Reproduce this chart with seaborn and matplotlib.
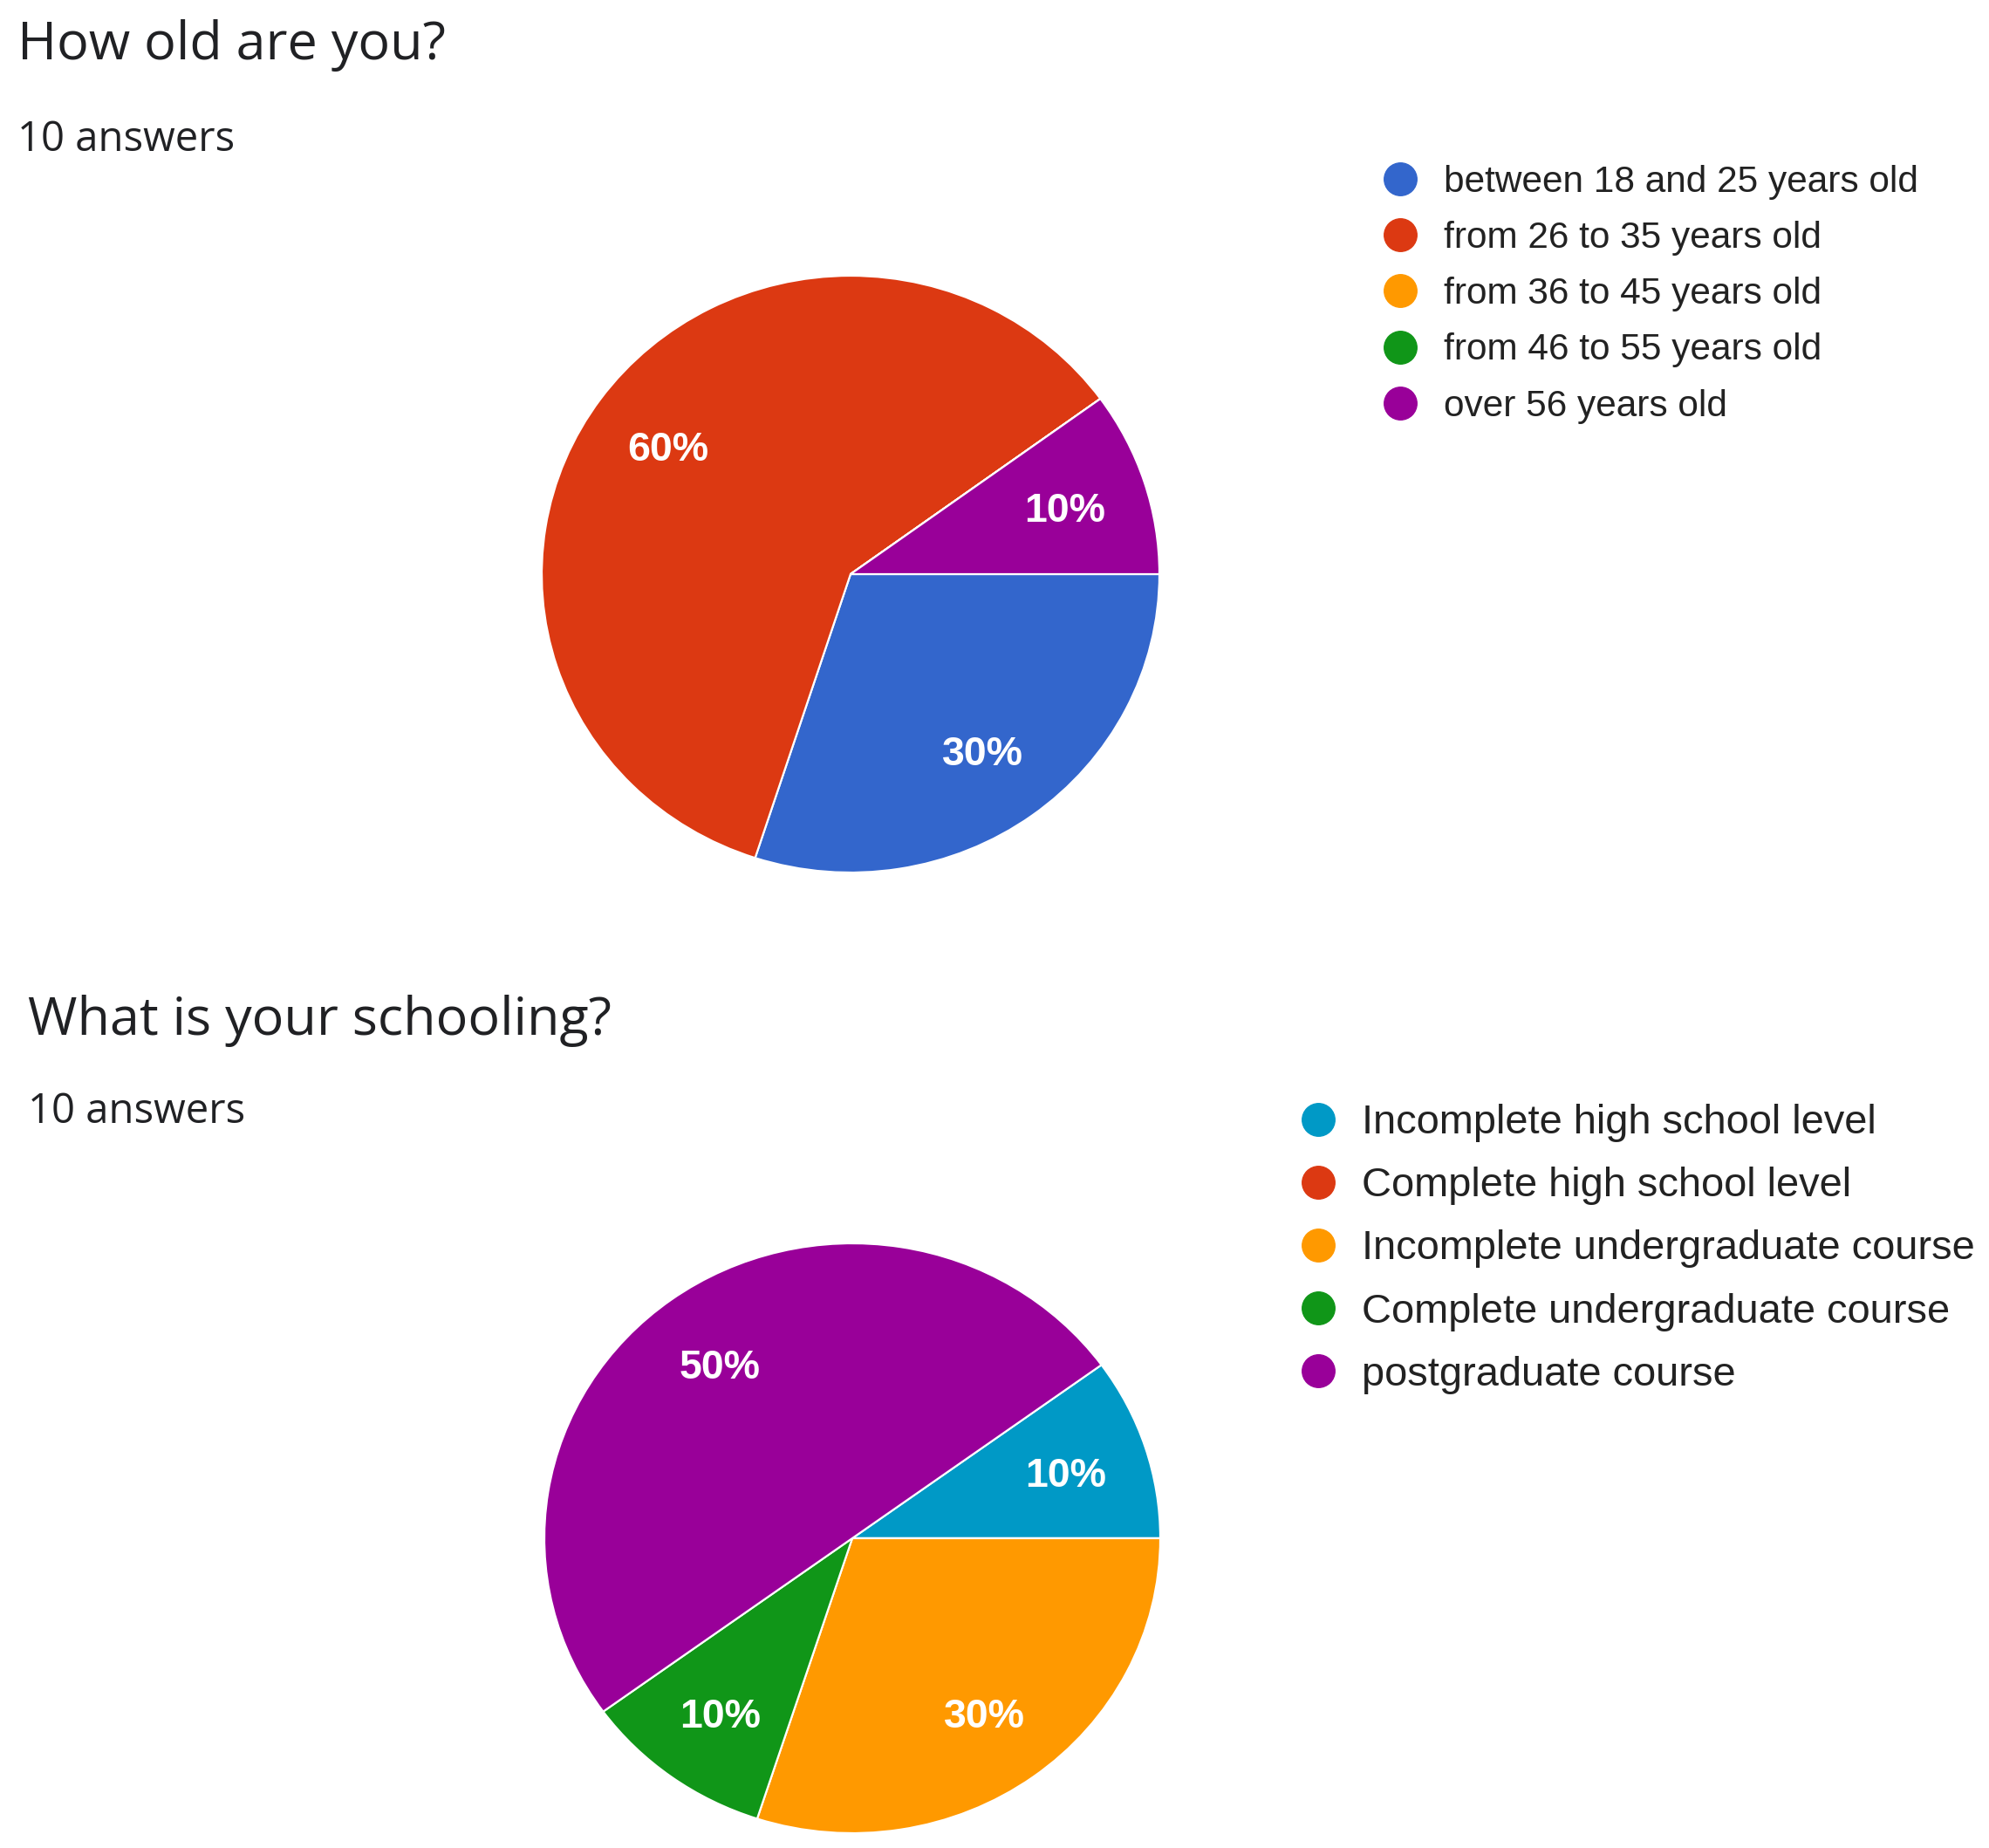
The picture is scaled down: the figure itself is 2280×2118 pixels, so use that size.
import matplotlib
matplotlib.use("Agg")
import matplotlib.pyplot as plt
from matplotlib.lines import Line2D
import seaborn as sns

# data
age_labels = ["between 18 and 25 years old", "from 26 to 35 years old",
              "from 36 to 45 years old", "from 46 to 55 years old",
              "over 56 years old"]
age_counts = [3, 6, 0, 0, 1]
age_colors = ["#3366cc", "#dc3912", "#ff9900", "#109618", "#990099"]

school_labels = ["Incomplete high school level", "Complete high school level",
                 "Incomplete undergraduate course", "Complete undergraduate course",
                 "postgraduate course"]
school_counts = [1, 0, 3, 1, 5]
school_colors = ["#0099c6", "#dc3912", "#ff9900", "#109618", "#990099"]

sns.set_theme(style="white")
plt.rcParams["font.family"] = ["Liberation Sans", "DejaVu Sans"]

W, H = 2280, 2118
fig = plt.figure(figsize=(W / 100, H / 100), dpi=100)
fig.patch.set_facecolor("white")


def fx(x):
    return x / W


def fy(y):
    return 1 - y / H


def pct(p):
    return "" if p < 0.5 else f"{p:.0f}%"


def draw_pie(counts, colors, cx, cy, rx, ry, start):
    pad = 1.05
    ax = fig.add_axes([fx(cx - rx * pad), fy(cy + ry * pad),
                       2 * rx * pad / W, 2 * ry * pad / H])
    wedges, texts, autotexts = ax.pie(
        counts, colors=sns.color_palette(colors), startangle=start,
        counterclock=False, autopct=pct, pctdistance=0.73,
        wedgeprops=dict(edgecolor="white", linewidth=1.6),
        textprops=dict(color="white", fontsize=33.5, fontweight="bold"))
    for t in autotexts:
        t.set_va("center_baseline")
    ax.set_aspect("auto")
    ax.set_xlim(-pad, pad)
    ax.set_ylim(-pad, pad)
    ax.axis("off")
    return ax


def draw_legend(labels, colors, x, y, fs, spacing, textpad):
    handles = [Line2D([], [], marker="o", linestyle="", markersize=27,
                      markerfacecolor=c, markeredgecolor=c)
               for c in sns.color_palette(colors)]
    fig.legend(handles, labels, loc="upper left",
               bbox_to_anchor=(fx(x), fy(y)), frameon=False,
               borderpad=0, borderaxespad=0, handlelength=1.0,
               handletextpad=textpad, labelspacing=spacing,
               prop=dict(family="Liberation Sans", size=fs),
               labelcolor="#222222")


# chart 1: age
fig.text(fx(20), fy(68), "How old are you?", family="Open Sans",
         fontsize=44, color="#202124", va="baseline")
fig.text(fx(20), fy(173), "10 answers", family="Open Sans",
         fontsize=34, color="#202124", va="baseline")
draw_pie(age_counts, age_colors, 975, 658, 354, 342, 0)
draw_legend(age_labels, age_colors, 1584, 189, 30.5, 0.57, 0.68)

# chart 2: schooling
fig.text(fx(32), fy(1186), "What is your schooling?", family="Open Sans",
         fontsize=44, color="#202124", va="baseline")
fig.text(fx(32), fy(1287), "10 answers", family="Open Sans",
         fontsize=34, color="#202124", va="baseline")
draw_pie(school_counts, school_colors, 977, 1763, 353, 338, 36)
draw_legend(school_labels, school_colors, 1488, 1265, 33.8, 0.60, 0.56)

fig.savefig("out.png", dpi=100, facecolor="white")
